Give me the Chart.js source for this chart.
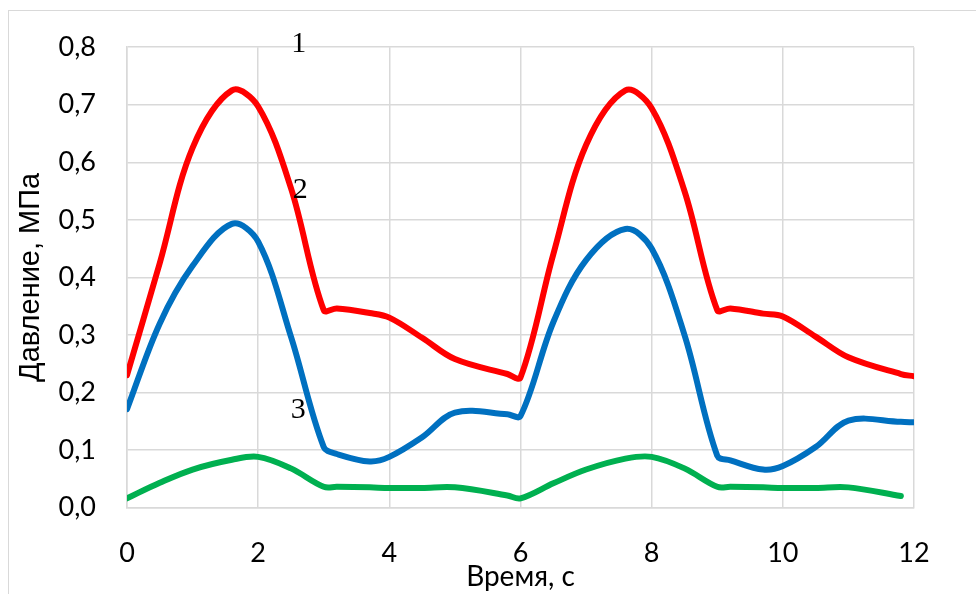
<!DOCTYPE html>
<html>
<head>
<meta charset="utf-8">
<script src="https://cdn.jsdelivr.net/npm/chart.js@4.4.1/dist/chart.umd.min.js"></script>
<style>
  html, body { margin: 0; padding: 0; background: #ffffff; overflow: hidden; }
  #wrap { position: relative; width: 976px; height: 594px; }
  #frame { position: absolute; left: 8px; top: 10px; width: 2000px; height: 2000px;
           border-left: 1px solid #d9d9d9; border-top: 1px solid #d9d9d9; }
  #c { position: absolute; left: 0; top: 0; }
</style>
</head>
<body>
<div id="wrap">
  <div id="frame"></div>
  <canvas id="c" width="976" height="594"></canvas>
</div>
<script>
// Время, с
const time = [0, 0.5, 1, 1.6, 2, 2.5, 3, 3.2, 3.7, 4, 4.5, 5, 5.8, 6, 6.5, 7, 7.6, 8, 8.5, 9, 9.2, 9.7, 10, 10.5, 11, 11.8, 12];

// Давление, МПа (кривые 1, 2, 3)
const curve1 = [0.23, 0.425, 0.625, 0.725, 0.697, 0.555, 0.343, 0.346, 0.338, 0.33, 0.295, 0.258, 0.232, 0.226,
                0.44, 0.63, 0.725, 0.694, 0.55, 0.343, 0.346, 0.337, 0.332, 0.297, 0.261, 0.232, 0.228];
const curve2 = [0.171, 0.32, 0.42, 0.493, 0.462, 0.297, 0.105, 0.093, 0.08, 0.088, 0.122, 0.165, 0.162, 0.159,
                0.322, 0.43, 0.484, 0.45, 0.30, 0.09, 0.082, 0.066, 0.072, 0.105, 0.151, 0.149, 0.148];
const curve3 = [0.016, 0.043, 0.066, 0.083, 0.088, 0.068, 0.036, 0.036, 0.035, 0.034, 0.034, 0.035, 0.021, 0.016,
                0.042, 0.066, 0.085, 0.088, 0.068, 0.036, 0.036, 0.035, 0.034, 0.034, 0.035, 0.020, null];

const xTicks = [0, 2, 4, 6, 8, 10, 12];
const yTicks = [0, 0.1, 0.2, 0.3, 0.4, 0.5, 0.6, 0.7, 0.8];

// номера кривых, подписаны прямо на графике
const curveNames = ['1', '2', '3'];
const namePos = [[2.62, 0.806], [2.64, 0.552], [2.61, 0.17]];

function toPoints(ys) {
    return time.map((t, i) => ({ x: t, y: ys[i] }));
}

const gridColor = '#d9d9d9';
const tickFont = { family: 'Lato', size: 27 };

// подписи 1, 2, 3 у кривых
const curveLabels = {
    id: 'curveLabels',
    afterDraw(chart) {
        const ctx = chart.ctx;
        const xs = chart.scales.x, ys = chart.scales.y;
        ctx.save();
        ctx.fillStyle = '#000000';
        ctx.font = '30px "Liberation Serif"';
        ctx.textAlign = 'center';
        ctx.textBaseline = 'middle';
        curveNames.forEach((name, i) => {
            ctx.fillText(name, xs.getPixelForValue(namePos[i][0]), ys.getPixelForValue(namePos[i][1]));
        });
        ctx.restore();
    }
};

new Chart(document.getElementById('c'), {
    type: 'line',
    data: {
        datasets: [
            { label: '1', data: toPoints(curve1), borderColor: '#ff0000' },
            { label: '2', data: toPoints(curve2), borderColor: '#0070c0' },
            { label: '3', data: toPoints(curve3), borderColor: '#00b050' }
        ]
    },
    options: {
        responsive: false,
        animation: false,
        layout: { padding: { top: 43, right: 62, left: 0, bottom: 0 } },
        elements: {
            line: { borderWidth: 6, tension: 0.35, fill: false, borderCapStyle: 'round', borderJoinStyle: 'round' },
            point: { radius: 0 }
        },
        plugins: { legend: { display: false }, tooltip: { enabled: false } },
        scales: {
            x: {
                type: 'linear',
                min: 0, max: 12,
                afterBuildTicks: s => { s.ticks = xTicks.map(v => ({ value: v })); },
                afterFit: s => { s.height = 86.5; },
                grid: { color: gridColor, lineWidth: 1.5, drawTicks: false },
                border: { color: gridColor, width: 1.5 },
                ticks: { color: '#000000', font: tickFont, padding: 30 },
                title: { display: true, text: 'Время, с', color: '#000000',
                         font: { family: 'Lato', size: 28 }, padding: { top: 0, bottom: 0 } }
            },
            y: {
                min: 0, max: 0.8,
                afterBuildTicks: s => { s.ticks = yTicks.map(v => ({ value: v })); },
                afterFit: s => { s.width = 127; },
                grid: { color: gridColor, lineWidth: 1.5, drawTicks: false },
                border: { color: gridColor, width: 1.5 },
                ticks: { color: '#000000', font: tickFont, padding: 31,
                         callback: v => v.toFixed(1).replace('.', ',') },
                title: { display: true, text: 'Давление, МПа', color: '#000000',
                         font: { family: 'Liberation Sans', size: 29 }, padding: { top: 14, bottom: 0 } }
            }
        }
    },
    plugins: [curveLabels]
});
</script>
</body>
</html>
